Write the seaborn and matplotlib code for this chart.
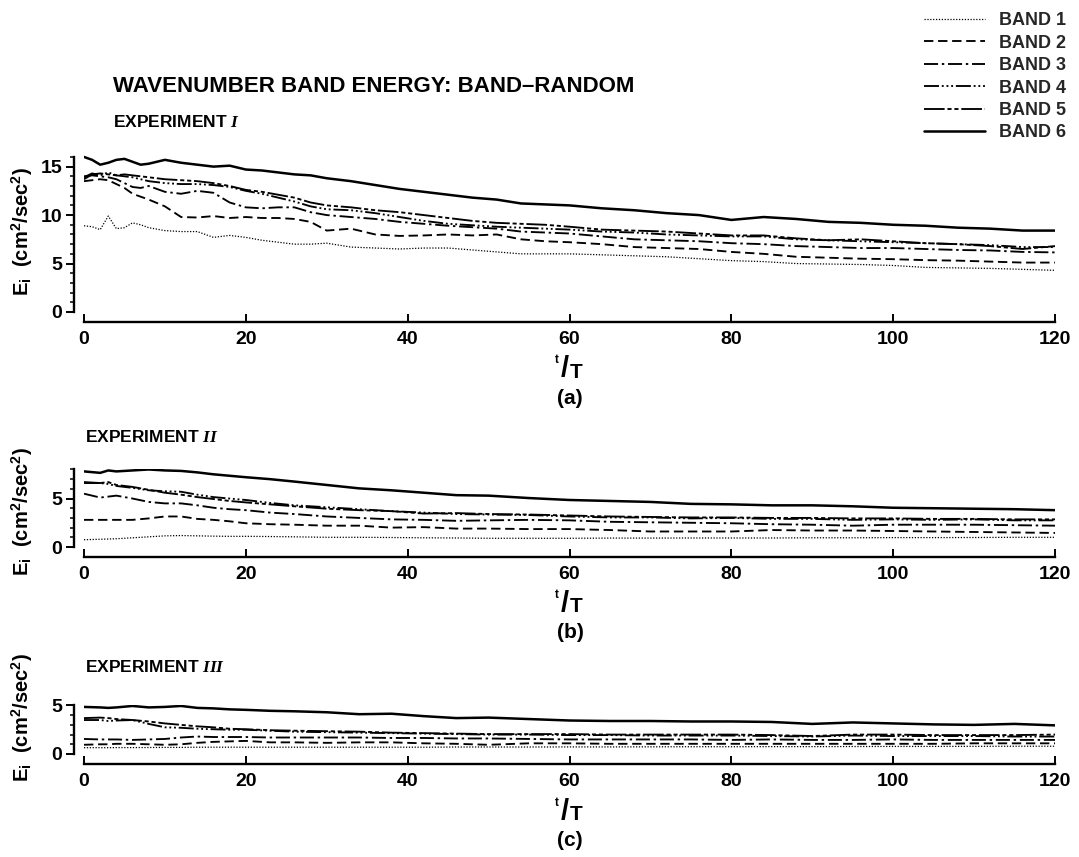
import numpy as np
import pandas as pd
import matplotlib
matplotlib.use("Agg")
import matplotlib.pyplot as plt
from matplotlib.ticker import MultipleLocator
import seaborn as sns

sns.set_theme(style="ticks")
plt.rcParams["font.family"] = ["Liberation Sans", "DejaVu Sans"]
plt.rcParams["font.weight"] = "bold"
plt.rcParams["mathtext.fontset"] = "custom"
plt.rcParams["mathtext.rm"] = "Liberation Sans:bold"
plt.rcParams["mathtext.bf"] = "Liberation Sans:bold"
plt.rcParams["mathtext.it"] = "Liberation Serif:bold:italic"

BANDS = ["BAND 1", "BAND 2", "BAND 3", "BAND 4", "BAND 5", "BAND 6"]

# ---- Experiment I -------------------------------------------------------
t_exp1 = [0, 1, 2, 3, 4, 5, 6, 7, 8, 10, 12, 14, 16, 18, 20, 22, 24, 26, 28, 30,
          33, 36, 39, 42, 45, 48, 51, 54, 57, 60, 64, 68, 72, 76, 80, 84, 88, 92,
          96, 100, 104, 108, 112, 116, 120]
exp1_band1 = [8.9, 8.8, 8.5, 9.9, 8.6, 8.7, 9.2, 9.0, 8.7, 8.4, 8.3, 8.3, 7.7, 7.9, 7.7,
              7.4, 7.2, 7.0, 7.0, 7.1, 6.7, 6.6, 6.5, 6.6, 6.6, 6.4, 6.2, 6.0, 6.0, 6.0,
              5.9, 5.8, 5.7, 5.5, 5.3, 5.2, 5.0, 4.95, 4.9, 4.8, 4.6, 4.55, 4.5, 4.4, 4.3]
exp1_band2 = [13.5, 13.6, 13.7, 13.6, 13.2, 12.8, 12.2, 11.9, 11.6, 10.9, 9.8, 9.75, 9.9,
              9.7, 9.8, 9.7, 9.7, 9.6, 9.3, 8.4, 8.6, 8.0, 7.85, 7.9, 8.0, 7.9, 8.0, 7.5,
              7.3, 7.2, 7.0, 6.7, 6.6, 6.5, 6.2, 6.0, 5.7, 5.6, 5.5, 5.45, 5.35, 5.3, 5.2,
              5.1, 5.1]
exp1_band3 = [14.0, 14.1, 14.0, 13.9, 13.7, 13.3, 12.9, 12.8, 13.0, 12.4, 12.2, 12.5, 12.3,
              11.3, 10.8, 10.7, 10.8, 10.8, 10.3, 10.0, 9.8, 9.6, 9.3, 9.1, 8.9, 8.75, 8.6,
              8.3, 8.2, 8.1, 7.8, 7.5, 7.4, 7.3, 7.1, 7.0, 6.8, 6.7, 6.6, 6.6, 6.5, 6.4,
              6.35, 6.2, 6.15]
exp1_band4 = [13.9, 14.3, 14.1, 14.4, 14.1, 14.0, 13.9, 13.7, 13.5, 13.3, 13.2, 13.2, 13.1,
              12.9, 12.5, 12.2, 11.8, 11.4, 10.9, 10.6, 10.5, 10.2, 9.8, 9.4, 9.1, 8.95,
              8.8, 8.7, 8.6, 8.5, 8.3, 8.2, 8.0, 7.9, 7.8, 7.8, 7.5, 7.4, 7.3, 7.2, 7.1,
              7.0, 6.9, 6.7, 6.7]
exp1_band5 = [13.7, 14.2, 14.3, 14.2, 14.1, 14.2, 14.1, 14.0, 13.9, 13.7, 13.6, 13.5, 13.3,
              13.0, 12.6, 12.4, 12.1, 11.8, 11.3, 11.0, 10.8, 10.5, 10.3, 10.0, 9.7, 9.4,
              9.2, 9.1, 9.0, 8.8, 8.5, 8.4, 8.3, 8.1, 7.9, 7.9, 7.6, 7.4, 7.5, 7.3, 7.1,
              7.0, 6.8, 6.5, 6.8]
exp1_band6 = [16.0, 15.7, 15.2, 15.4, 15.7, 15.8, 15.5, 15.2, 15.3, 15.7, 15.4, 15.2, 15.0,
              15.1, 14.7, 14.6, 14.4, 14.2, 14.1, 13.8, 13.5, 13.1, 12.7, 12.4, 12.1, 11.8,
              11.6, 11.2, 11.1, 11.0, 10.7, 10.5, 10.2, 10.0, 9.5, 9.8, 9.6, 9.3, 9.2, 9.0,
              8.9, 8.7, 8.6, 8.4, 8.4]

# ---- Experiments II and III share one time grid ---------------------------
t_exp23 = [0, 2, 3, 4, 6, 8, 10, 12, 14, 16, 18, 20, 23, 26, 30, 34, 38, 42, 46, 50,
           55, 60, 65, 70, 75, 80, 85, 90, 95, 100, 105, 110, 115, 120]

exp2_band1 = [0.75, 0.8, 0.82, 0.85, 0.95, 1.05, 1.15, 1.18, 1.15, 1.12, 1.1, 1.1, 1.08,
              1.05, 1.0, 1.0, 0.98, 0.95, 0.93, 0.9, 0.9, 0.9, 0.92, 0.92, 0.93, 0.93,
              0.93, 0.95, 0.95, 0.97, 0.97, 0.98, 1.0, 1.0]
exp2_band2 = [2.8, 2.8, 2.8, 2.8, 2.8, 2.95, 3.15, 3.15, 2.9, 2.8, 2.65, 2.45, 2.35, 2.3,
              2.2, 2.2, 2.0, 2.05, 1.9, 1.9, 1.85, 1.85, 1.75, 1.6, 1.6, 1.6, 1.75, 1.7,
              1.7, 1.65, 1.6, 1.55, 1.5, 1.45]
exp2_band3 = [5.5, 5.1, 5.2, 5.3, 5.0, 4.65, 4.5, 4.5, 4.3, 4.05, 3.9, 3.8, 3.55, 3.4,
              3.15, 3.0, 2.85, 2.8, 2.7, 2.75, 2.8, 2.75, 2.6, 2.55, 2.5, 2.45, 2.35, 2.3,
              2.2, 2.3, 2.3, 2.3, 2.25, 2.2]
exp2_band4 = [6.6, 6.6, 6.5, 6.3, 6.1, 5.85, 5.75, 5.7, 5.4, 5.15, 5.0, 4.85, 4.55, 4.3,
              4.1, 3.9, 3.7, 3.55, 3.4, 3.35, 3.3, 3.15, 3.05, 3.05, 2.95, 3.0, 2.9, 2.9,
              2.8, 2.85, 2.8, 2.85, 2.75, 2.75]
exp2_band5 = [6.7, 6.6, 6.7, 6.4, 6.2, 5.9, 5.6, 5.4, 5.15, 4.95, 4.75, 4.6, 4.4, 4.2,
              3.95, 3.8, 3.7, 3.45, 3.5, 3.4, 3.35, 3.25, 3.15, 3.1, 3.05, 3.05, 3.0, 3.0,
              2.95, 2.95, 2.9, 2.9, 2.85, 2.85]
exp2_band6 = [7.8, 7.65, 7.9, 7.8, 7.9, 8.0, 7.9, 7.85, 7.7, 7.5, 7.35, 7.2, 7.0, 6.75,
              6.4, 6.05, 5.85, 5.6, 5.35, 5.3, 5.05, 4.85, 4.75, 4.65, 4.45, 4.4, 4.3, 4.3,
              4.2, 4.05, 4.0, 3.95, 3.9, 3.8]

exp3_band1 = [0.65, 0.65, 0.65, 0.66, 0.66, 0.67, 0.68, 0.68, 0.7, 0.7, 0.7, 0.7, 0.7,
              0.7, 0.7, 0.7, 0.7, 0.7, 0.72, 0.72, 0.72, 0.73, 0.73, 0.74, 0.75, 0.75,
              0.76, 0.76, 0.77, 0.78, 0.78, 0.79, 0.8, 0.8]
exp3_band2 = [0.95, 1.0, 1.0, 1.05, 1.05, 1.0, 0.95, 1.0, 1.15, 1.25, 1.3, 1.35, 1.2, 1.2,
              1.15, 1.2, 1.2, 1.1, 1.05, 0.95, 1.1, 1.1, 1.05, 1.05, 1.05, 1.05, 1.05,
              1.05, 1.05, 1.05, 1.05, 1.1, 1.1, 1.1]
exp3_band3 = [1.55, 1.5, 1.5, 1.5, 1.45, 1.5, 1.55, 1.7, 1.8, 1.75, 1.75, 1.75, 1.7, 1.7,
              1.7, 1.7, 1.65, 1.65, 1.6, 1.6, 1.55, 1.5, 1.5, 1.5, 1.5, 1.45, 1.5, 1.45,
              1.45, 1.5, 1.45, 1.45, 1.45, 1.45]
exp3_band4 = [3.5, 3.5, 3.4, 3.45, 3.5, 3.1, 2.75, 2.7, 2.6, 2.55, 2.5, 2.5, 2.4, 2.3,
              2.25, 2.2, 2.15, 2.1, 2.05, 2.0, 2.0, 1.95, 1.95, 1.9, 1.9, 1.9, 1.85, 1.8,
              1.9, 1.85, 1.85, 1.85, 1.8, 1.8]
exp3_band5 = [3.7, 3.75, 3.7, 3.6, 3.5, 3.35, 3.15, 3.0, 2.85, 2.75, 2.6, 2.55, 2.45, 2.4,
              2.35, 2.3, 2.2, 2.15, 2.1, 2.05, 2.05, 2.05, 2.0, 2.0, 2.0, 2.0, 1.95, 1.85,
              2.0, 2.0, 1.95, 1.95, 1.95, 2.0]
exp3_band6 = [4.85, 4.8, 4.75, 4.8, 4.95, 4.8, 4.85, 4.95, 4.75, 4.7, 4.6, 4.55, 4.45, 4.4,
              4.3, 4.1, 4.15, 3.9, 3.7, 3.75, 3.6, 3.45, 3.4, 3.4, 3.35, 3.35, 3.3, 3.1,
              3.25, 3.15, 3.05, 3.0, 3.1, 2.95]

x_ticks = [0, 20, 40, 60, 80, 100, 120]

# ---- line styling ---------------------------------------------------------
PALETTE = {b: "black" for b in BANDS}
DASHES = {
    "BAND 1": (1.0, 1.3),
    "BAND 2": (5.0, 2.5),
    "BAND 3": (7.5, 2.0, 1.3, 2.0),
    "BAND 4": (8.0, 1.5, 1.0, 1.5, 1.0, 1.5, 1.0, 1.5),
    "BAND 5": (11.0, 1.5, 2.2, 1.5, 2.2, 1.5),
    "BAND 6": "",
}
WIDTHS = {"BAND 1": 0.9, "BAND 2": 1.35, "BAND 3": 1.35, "BAND 4": 1.35,
          "BAND 5": 1.35, "BAND 6": 1.8}

W, H = 1079, 857
fig = plt.figure(figsize=(W / 100, H / 100), dpi=100)
fig.patch.set_facecolor("white")


def px_axes(left, right, y0, ytop):
    return fig.add_axes([left / W, 1 - y0 / H, (right - left) / W, (y0 - ytop) / H])


def long_frame(t, columns):
    parts = [pd.DataFrame({"t": t, "E": vals, "band": name})
             for name, vals in zip(BANDS, columns)]
    return pd.concat(parts, ignore_index=True)


def draw_panel(ax, t, columns, ymax, ytop_tick, show_legend):
    df = long_frame(t, columns)
    sns.lineplot(data=df, x="t", y="E", hue="band", style="band", size="band",
                 palette=PALETTE, dashes=DASHES, sizes=WIDTHS, hue_order=BANDS,
                 style_order=BANDS, size_order=BANDS, ax=ax, legend=show_legend,
                 sort=False)
    ax.set_xlim(0, 120)
    ax.set_ylim(0, ymax)
    ax.set_facecolor("none")
    sns.despine(ax=ax, offset=7.5)
    ax.spines["left"].set_bounds(0, ytop_tick)
    ax.spines["bottom"].set_bounds(0, 120)
    for s in ("left", "bottom"):
        ax.spines[s].set_linewidth(1.7)
        ax.spines[s].set_color("black")
    ax.set_xticks(x_ticks)
    ax.yaxis.set_major_locator(MultipleLocator(5))
    ax.yaxis.set_minor_locator(MultipleLocator(1))
    ax.tick_params(axis="y", which="major", direction="out", length=6, width=1.4,
                   labelsize=14, pad=2, colors="black")
    ax.tick_params(axis="y", which="minor", direction="out", length=3, width=1.1,
                   colors="black")
    ax.tick_params(axis="x", which="major", direction="in", length=6, width=1.4,
                   labelsize=14, pad=6, colors="black")
    for lab in ax.get_xticklabels() + ax.get_yticklabels():
        lab.set_fontweight("bold")
    ax.set_xlabel("")
    ax.set_ylabel("")


ax1 = px_axes(84, 1055, 312, 155)
ax2 = px_axes(84, 1055, 547, 468.5)
ax3 = px_axes(84, 1055, 754, 704.5)

draw_panel(ax1, t_exp1, [exp1_band1, exp1_band2, exp1_band3, exp1_band4,
                         exp1_band5, exp1_band6], 16.2, 16, True)
draw_panel(ax2, t_exp23, [exp2_band1, exp2_band2, exp2_band3, exp2_band4,
                          exp2_band5, exp2_band6], 8.1, 8, False)
draw_panel(ax3, t_exp23, [exp3_band1, exp3_band2, exp3_band3, exp3_band4,
                          exp3_band5, exp3_band6], 5.1, 5, False)

handles, labels = ax1.get_legend_handles_labels()
ax1.get_legend().remove()
leg = fig.legend(handles, labels, loc="upper right",
                 bbox_to_anchor=(1082 / W, 1 + 4 / H), frameon=False,
                 fontsize=13, handlelength=3.4, labelspacing=0.3,
                 handletextpad=0.75)
for txt in leg.get_texts():
    txt.set_fontweight("bold")


def ftext(x, y, s, **kw):
    kw.setdefault("fontweight", "bold")
    kw.setdefault("color", "black")
    fig.text(x / W, 1 - y / H, s, **kw)


ftext(113, 87, "WAVENUMBER BAND ENERGY: BAND\u2013RANDOM", fontsize=16,
      va="center", ha="left")
ftext(113, 122, r"EXPERIMENT $\mathit{I}$", fontsize=12.5, va="center", ha="left")
ftext(85, 437, r"EXPERIMENT $\mathit{II}$", fontsize=12.5, va="center", ha="left")
ftext(85, 667, r"EXPERIMENT $\mathit{III}$", fontsize=12.5, va="center", ha="left")

ylab = r"E$_{\mathrm{i}}$  (cm$^{\mathrm{2}}$/sec$^{\mathrm{2}}$)"
for yc in (232, 512, 718):
    ftext(22, yc, ylab, fontsize=14.5, rotation=90, va="center", ha="center")

# time axis label drawn as a small "t", a slash and "T", then the panel tag
for yc, tag in ((369, "(a)"), (604, "(b)"), (812, "(c)")):
    ftext(557, yc - 9, "t", fontsize=8.5, va="center", ha="center")
    ftext(565, yc, "/", fontsize=21, va="center", ha="center")
    ftext(576, yc + 3, "T", fontsize=15, va="center", ha="center")
    ftext(570, yc + 29, tag, fontsize=15, va="center", ha="center")

fig.savefig("out.png", dpi=100, facecolor="white")
